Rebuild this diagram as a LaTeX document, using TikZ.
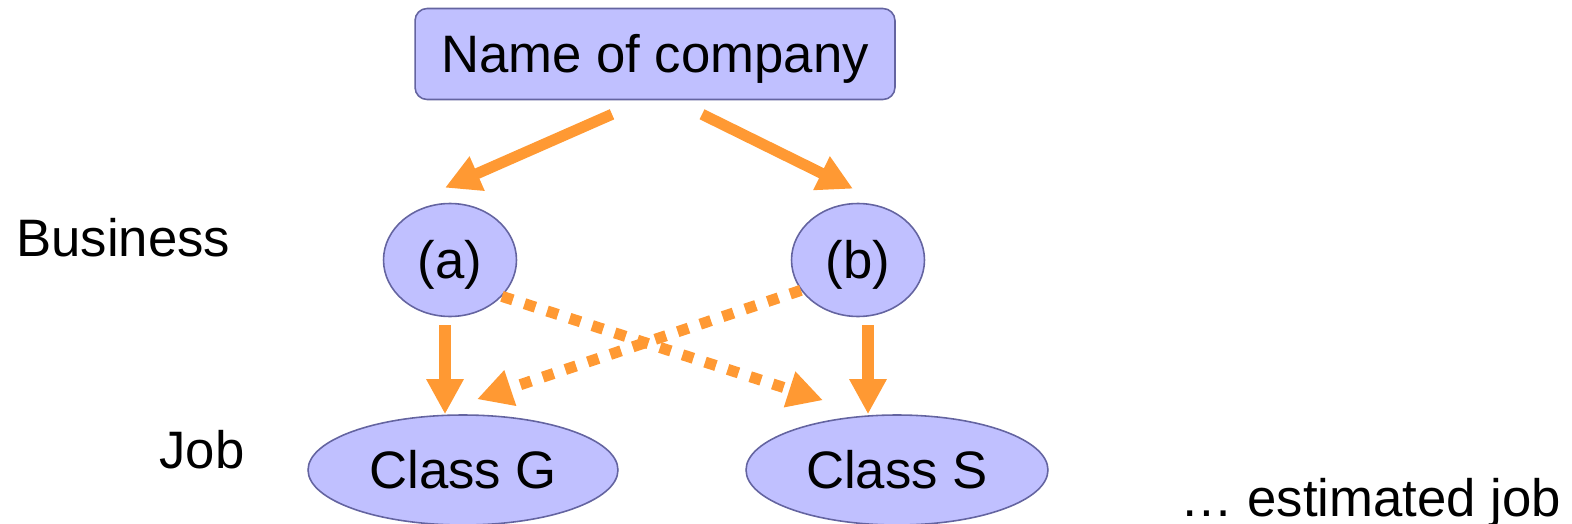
\documentclass[tikz,border=0pt]{standalone}
\usepackage{fontspec}
\setmainfont{Liberation Sans}
\usetikzlibrary{arrows.meta,shapes.geometric,calc}

\definecolor{blobfill}{RGB}{192,192,255}
\definecolor{blobline}{RGB}{100,100,160}
\definecolor{linkorange}{RGB}{255,153,51}

\begin{document}
\begin{tikzpicture}[x=0.02cm, y=-0.02cm,
  every node/.style={font=\fontsize{30}{36}\selectfont, text height=21.6pt, text depth=0pt, inner sep=0pt},
  blob/.style={fill=blobfill, draw=blobline, line width=0.9pt},
  link/.style={draw=linkorange, line width=6.3pt, -{Triangle[length=20pt,width=20pt]}},
  maybe/.style={link, dash pattern=on 6.5pt off 7pt}]
\useasboundingbox (0,0) rectangle (1572,524);
\node[blob, rounded corners=0.24cm, minimum width=9.6cm, minimum height=1.82cm] (company) at (655,54) {Name of company};
\node[blob, ellipse, minimum width=2.66cm, minimum height=2.26cm] (busa) at (450,260) {(a)};
\node[blob, ellipse, minimum width=2.66cm, minimum height=2.26cm] (busb) at (858,260) {(b)};
\node[blob, ellipse, minimum width=6.2cm, minimum height=2.2cm] (jobg) at (463,470) {Class G};
\node[blob, ellipse, minimum width=6.04cm, minimum height=2.2cm] (jobs) at (897,470) {Class S};
\node[anchor=base west] (business) at (16,256) {Business};
\node[anchor=base west] (job) at (159,468) {Job};
\node[anchor=base west] (estimated) at (1180,516) {… estimated job};
\draw[link] ($(company.south)+(-43,14)$) -- ($(busa.north)+(-5,-15)$);
\draw[link] ($(company.south)+(47,14)$) -- ($(busb.north)+(-5,-14)$);
\draw[link] ($(busa.south)+(-5,8)$) -- ($(jobg.north)+(-18,0)$);
\draw[link] ($(busb.south)+(10,8)$) -- ($(jobs.north)+(-29,0)$);
\draw[maybe] (busa.-35) -- ($(jobs.north)+(-74,-14)$);
\draw[maybe] (busb.-152) -- ($(jobg.north)+(14,-15)$);
\end{tikzpicture}
\end{document}
